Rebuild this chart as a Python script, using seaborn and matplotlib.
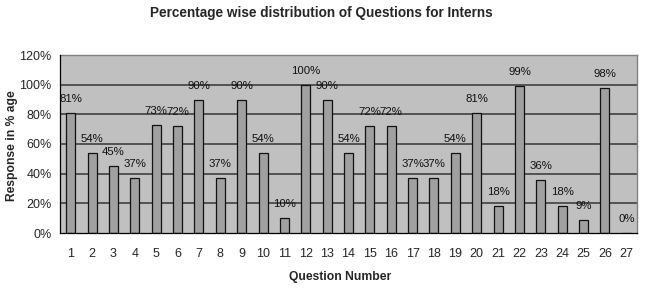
import matplotlib
matplotlib.use("Agg")
import matplotlib.pyplot as plt
import seaborn as sns
import pandas as pd
import numpy as np

questions = [str(i) for i in range(1, 28)]
values = [81, 54, 45, 37, 73, 72, 90, 37, 90, 54, 10, 100, 90, 54, 72, 72,
          37, 37, 54, 81, 18, 99, 36, 18, 9, 98, 0]
yticks = [0, 20, 40, 60, 80, 100, 120]
ytick_labels = [f"{t}%" for t in yticks]

sns.set_style("white")
plt.rcParams['font.family'] = ['Liberation Sans', 'DejaVu Sans']

df = pd.DataFrame({"Question": questions, "Value": values})

fig = plt.figure(figsize=(6.48, 2.90), dpi=100)
ax = fig.add_axes([60/648, 1-233/290, (637-60)/648, (233-55)/290])
ax.set_facecolor("#C0C0C0")

sns.barplot(data=df, x="Question", y="Value", ax=ax, color="#A0A0A0",
            width=0.42, edgecolor="#111111", linewidth=0.9, saturation=1,
            zorder=3)

ax.set_ylim(0, 120)
ax.set_xlim(-0.5, len(questions) - 0.5)
ax.set_yticks(yticks)
ax.set_yticklabels(ytick_labels, fontsize=9)
for t in yticks[1:-1]:
    ax.axhline(t, color="#4a4a4a", lw=1.3, zorder=1)

# x ticks: labels at centers, tick marks at boundaries
ax.set_xticks(range(len(questions)))
ax.set_xticklabels(questions, fontsize=9)
ax.tick_params(axis='x', which='major', length=0, pad=11)
ax.set_xticks(np.arange(-0.5, len(questions)), minor=True)
ax.tick_params(axis='x', which='minor', length=4, width=0.8, direction='out', color='black')
ax.tick_params(axis='y', which='major', length=4, width=0.8, direction='out', color='black', pad=2)

for sp in ['top', 'right']:
    ax.spines[sp].set_color('#808080')
    ax.spines[sp].set_linewidth(1.0)
for sp in ['left', 'bottom']:
    ax.spines[sp].set_color('black')
    ax.spines[sp].set_linewidth(0.9)
    ax.spines[sp].set_zorder(4)

for i, v in enumerate(values):
    ax.annotate(f"{v}%", (i, v), xytext=(0, 10), textcoords='offset points',
                ha='center', va='center', fontsize=8.2, color='#111111', zorder=5)

ax.set_xlabel("Question Number", fontsize=8.7, fontweight='bold')
ax.xaxis.set_label_coords((340-60)/577, -(277-233)/178)
ax.set_ylabel("Response in % age", fontsize=8.7, fontweight='bold')
ax.yaxis.set_label_coords(-(60-12)/577, (233-146)/178)
ax.xaxis.label.set_va('center')
ax.yaxis.label.set_va('center')
fig.text(321/648, 1-13/290, "Percentage wise distribution of Questions for Interns",
         ha='center', va='center', fontsize=9.8, fontweight='bold')

fig.savefig("out.png", dpi=100, facecolor='white')
